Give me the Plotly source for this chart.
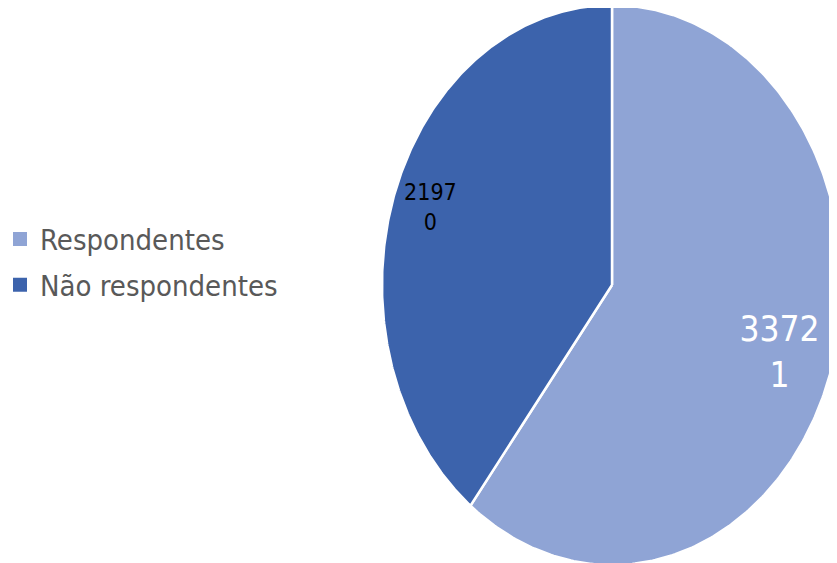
import numpy as np
import plotly.graph_objects as go

categories = ["Respondentes", "Não respondentes"]
values = [33721, 21970]
label_text = ["3372<br>1", "2197<br>0"]
colors = ["#8FA4D5", "#3C63AC"]
label_colors = ["#FFFFFF", "#000000"]
label_sizes = [35, 23]
label_radius = [0.77, 0.835]

FONT = "DejaVu Sans Condensed, Liberation Sans Narrow, DejaVu Sans, sans-serif"
# page body has an 8px margin, so the figure is laid out in page coords minus 8
W, H = 829, 555
cx, cy, rx, ry = 604, 277, 230, 280

total = sum(values)
fig = go.Figure()
start = 0.0
for cat, v, col, lt, lc, ls, lr in zip(categories, values, colors, label_text,
                                       label_colors, label_sizes, label_radius):
    frac = v / total
    t = np.linspace(start, start + frac, 300) * 2 * np.pi
    xs = np.concatenate([[0], np.sin(t), [0]])
    ys = np.concatenate([[0], np.cos(t), [0]])
    fig.add_trace(go.Scatter(x=xs, y=ys, fill="toself", fillcolor=col, mode="lines",
                             line=dict(color="white", width=2.5), showlegend=False,
                             hoverinfo="skip"))
    mid = (start + frac / 2) * 2 * np.pi
    fig.add_trace(go.Scatter(x=[lr * np.sin(mid)], y=[lr * np.cos(mid)], mode="text",
                             text=[lt], textposition="middle center",
                             textfont=dict(family=FONT, size=ls, color=lc),
                             showlegend=False, hoverinfo="skip"))
    start += frac

for i, (cat, col) in enumerate(zip(categories, colors)):
    fig.add_trace(go.Scatter(x=[None], y=[None], mode="markers", name=cat,
                             legendgroup=f"g{i}",
                             marker=dict(symbol="square", size=14, color=col)))

fig.update_layout(
    width=W, height=H,
    margin=dict(l=0, r=0, t=0, b=0),
    paper_bgcolor="white", plot_bgcolor="white",
    xaxis=dict(visible=False, range=[-cx / rx, (W - cx) / rx], fixedrange=True),
    yaxis=dict(visible=False, range=[-(H - cy) / ry, cy / ry], fixedrange=True),
    legend=dict(x=0, xanchor="left", y=0.542, yanchor="middle",
                font=dict(family=FONT, size=29, color="#595959"),
                tracegroupgap=5, traceorder="grouped", indentation=-8,
                bgcolor="rgba(0,0,0,0)", itemclick=False),
    showlegend=True,
)

fig.write_html("out.html")
